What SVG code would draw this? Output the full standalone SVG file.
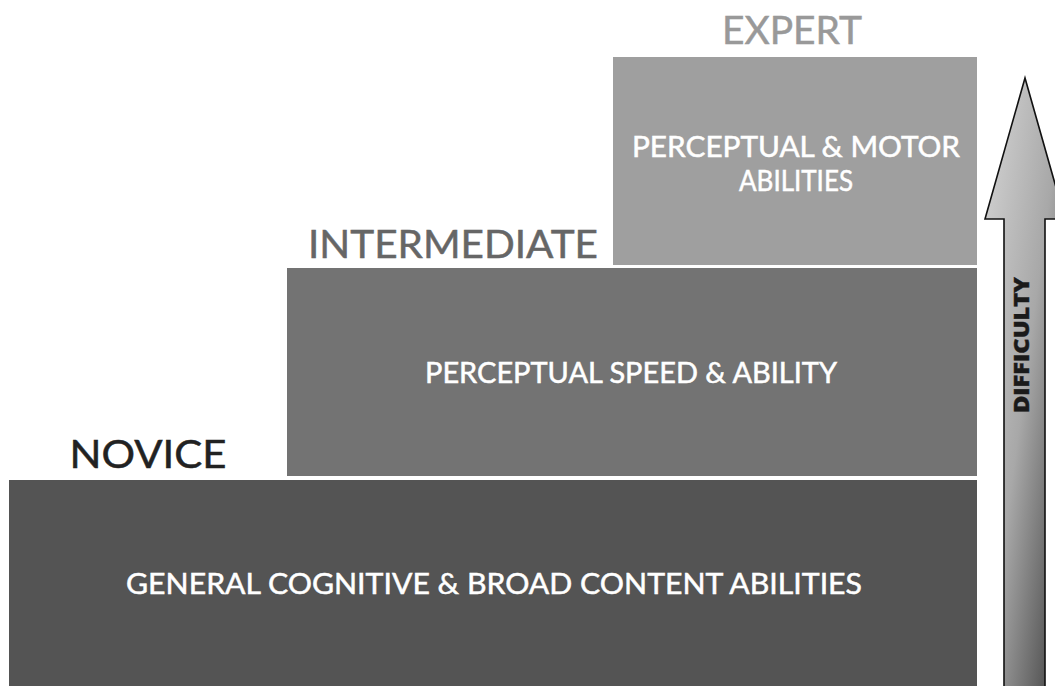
<svg xmlns="http://www.w3.org/2000/svg" width="1055" height="686" viewBox="0 0 1055 686">
<defs>
<linearGradient id="ag" x1="0" y1="0" x2="1" y2="1" gradientUnits="userSpaceOnUse" gradientTransform="translate(985,78) scale(80,608)">
<stop offset="0" stop-color="#d6d6d6"/>
<stop offset="0.5" stop-color="#a8a8a8"/>
<stop offset="1" stop-color="#3c3c3c"/>
</linearGradient>
<style>
.lbl{font-family:Lato,"Open Sans","Liberation Sans",sans-serif;text-anchor:middle}
.in{fill:#ffffff;stroke:#ffffff;stroke-width:0.5px;font-size:28px}
.lvl{font-size:39px;stroke-width:0.5px}
</style>
</defs>
<rect width="1055" height="686" fill="#ffffff"/>
<g id="novice">
<rect x="9" y="480" width="968" height="206" fill="#545454"/>
<text class="lbl lvl" x="148" y="468" fill="#222222" stroke="#222222" textLength="157" lengthAdjust="spacingAndGlyphs">NOVICE</text>
<text class="lbl in" x="494" y="594" textLength="736" lengthAdjust="spacingAndGlyphs">GENERAL COGNITIVE &amp; BROAD CONTENT ABILITIES</text>
</g>
<g id="intermediate">
<rect x="287" y="268" width="690" height="208" fill="#737373"/>
<text class="lbl lvl" x="453" y="258" fill="#666666" stroke="#666666" textLength="290" lengthAdjust="spacingAndGlyphs">INTERMEDIATE</text>
<text class="lbl in" x="631" y="383" textLength="412" lengthAdjust="spacingAndGlyphs">PERCEPTUAL SPEED &amp; ABILITY</text>
</g>
<g id="expert">
<rect x="613" y="57" width="364" height="208" fill="#9f9f9f"/>
<text class="lbl lvl" x="792" y="44" fill="#999999" stroke="#999999" textLength="140" lengthAdjust="spacingAndGlyphs">EXPERT</text>
<text class="lbl in" x="796" y="157" textLength="328" lengthAdjust="spacingAndGlyphs">PERCEPTUAL &amp; MOTOR</text>
<text class="lbl in" x="796" y="191" textLength="114" lengthAdjust="spacingAndGlyphs">ABILITIES</text>
</g>
<g id="connectors">
<g id="difficulty-arrow">
<path d="M1004,690 L1004,219 L985,219 L1025,78 L1065,219 L1045,219 L1045,690 Z" fill="url(#ag)" stroke="#111111" stroke-width="1.6" stroke-linejoin="miter"/>
<text transform="translate(1029,345) rotate(-90)" font-family="'Open Sans','DejaVu Sans',sans-serif" font-weight="800" font-size="21" fill="#1a1a1a" stroke="#1a1a1a" stroke-width="0.4" text-anchor="middle" textLength="136" lengthAdjust="spacingAndGlyphs">DIFFICULTY</text>
</g>
</g>
</svg>
